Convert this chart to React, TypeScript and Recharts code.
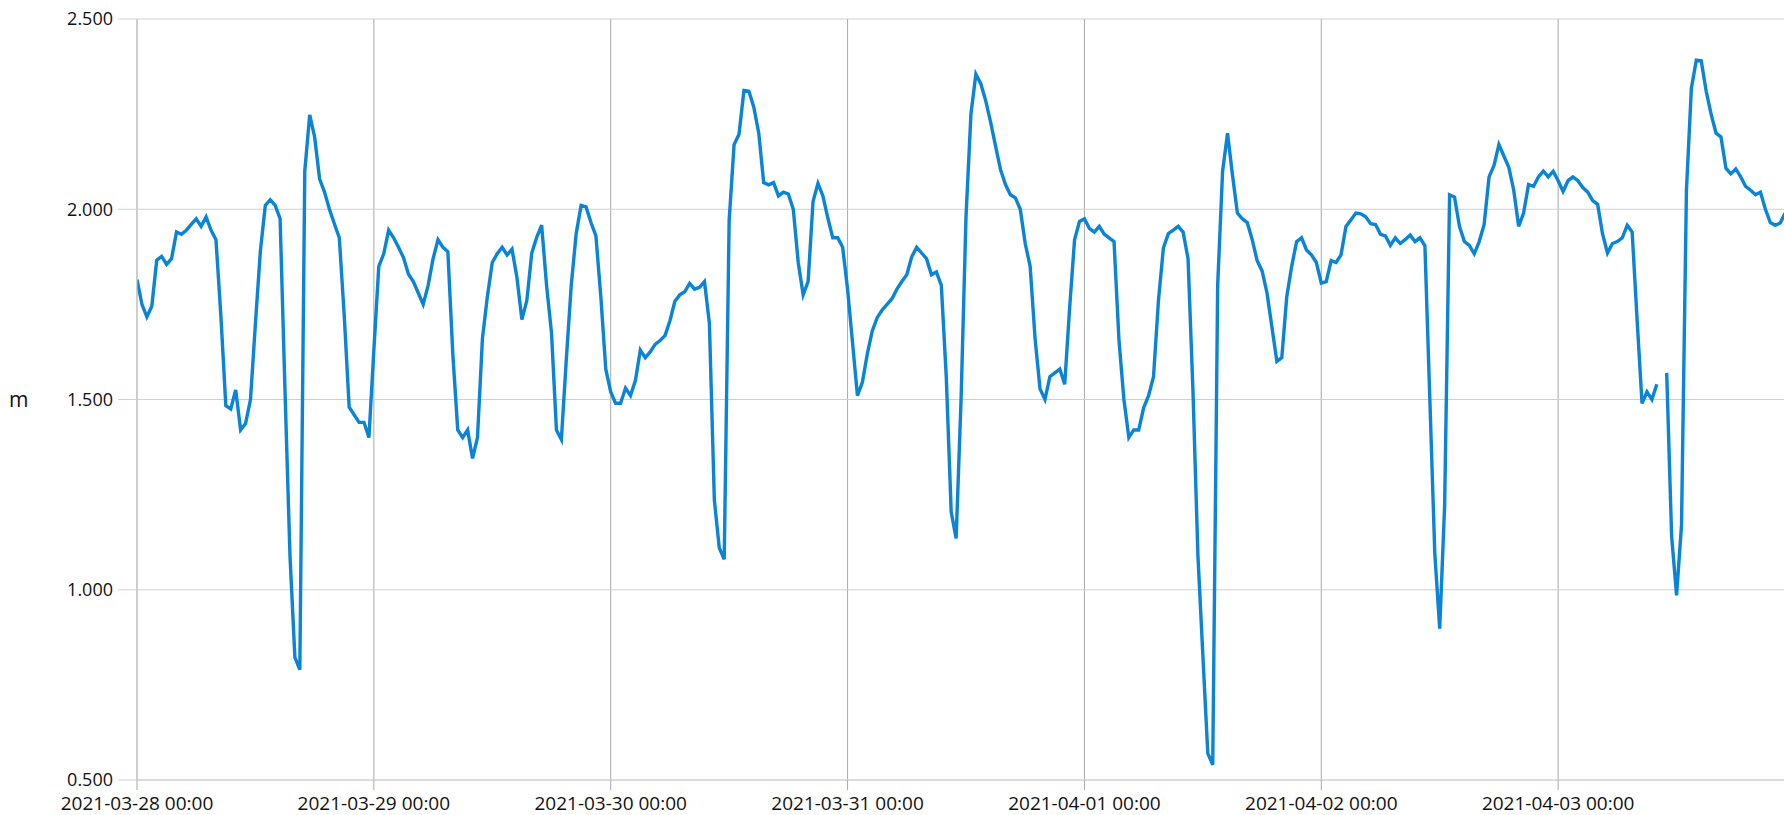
import { LineChart, Line, XAxis, YAxis, CartesianGrid } from 'recharts'

// half-hourly water level readings (m), one array per day
const day0328 = [
  1.815, 1.75, 1.717, 1.745, 1.866, 1.876, 1.855, 1.87, 1.94, 1.934, 1.945, 1.96,
  1.975, 1.955, 1.98, 1.945, 1.92, 1.72, 1.484, 1.475, 1.525, 1.42, 1.437, 1.5,
  1.7, 1.89, 2.01, 2.025, 2.01, 1.975, 1.52, 1.09, 0.822, 0.79, 2.1, 2.248,
  2.19, 2.08, 2.045, 2.0, 1.962, 1.925, 1.72, 1.48, 1.46, 1.44, 1.44, 1.4,
]
const day0329 = [
  1.63, 1.85, 1.883, 1.945, 1.925, 1.9, 1.873, 1.83, 1.81, 1.78, 1.75, 1.8,
  1.87, 1.92, 1.9, 1.888, 1.62, 1.42, 1.4, 1.42, 1.345, 1.4, 1.66, 1.77,
  1.86, 1.883, 1.9, 1.88, 1.895, 1.82, 1.71, 1.76, 1.885, 1.926, 1.958, 1.8,
  1.675, 1.42, 1.395, 1.605, 1.8, 1.936, 2.01, 2.006, 1.965, 1.93, 1.77, 1.58,
]
const day0330 = [
  1.52, 1.49, 1.49, 1.53, 1.51, 1.55, 1.63, 1.61, 1.625, 1.645, 1.655, 1.668,
  1.707, 1.758, 1.775, 1.783, 1.805, 1.79, 1.795, 1.81, 1.7, 1.236, 1.11, 1.08,
  1.97, 2.17, 2.197, 2.312, 2.31, 2.268, 2.2, 2.07, 2.064, 2.07, 2.035, 2.045,
  2.04, 2.0, 1.86, 1.775, 1.81, 2.02, 2.068, 2.035, 1.977, 1.925, 1.925, 1.9,
]
const day0331 = [
  1.79, 1.65, 1.51, 1.545, 1.62, 1.68, 1.715, 1.735, 1.75, 1.765, 1.79, 1.81,
  1.828, 1.875, 1.9, 1.885, 1.87, 1.828, 1.835, 1.8, 1.56, 1.204, 1.135, 1.5,
  1.98, 2.25, 2.355, 2.33, 2.285, 2.228, 2.165, 2.104, 2.065, 2.038, 2.03, 2.0,
  1.91, 1.85, 1.66, 1.528, 1.5, 1.56, 1.57, 1.58, 1.54, 1.74, 1.92, 1.968,
]
const day0401 = [
  1.975, 1.95, 1.94, 1.955, 1.935, 1.925, 1.915, 1.656, 1.5, 1.4, 1.42, 1.42,
  1.478, 1.51, 1.56, 1.76, 1.898, 1.936, 1.945, 1.955, 1.94, 1.87, 1.52, 1.09,
  0.828, 0.57, 0.54, 1.8, 2.1, 2.2, 2.09, 1.99, 1.975, 1.965, 1.92, 1.865,
  1.838, 1.78, 1.69, 1.6, 1.61, 1.77, 1.85, 1.915, 1.925, 1.893, 1.88, 1.86,
]
const day0402 = [
  1.806, 1.81, 1.865, 1.86, 1.88, 1.955, 1.972, 1.99, 1.988, 1.98, 1.962, 1.96,
  1.934, 1.93, 1.905, 1.925, 1.91, 1.92, 1.932, 1.915, 1.925, 1.904, 1.5, 1.096,
  0.898, 1.223, 2.038, 2.032, 1.955, 1.915, 1.905, 1.883, 1.915, 1.96, 2.085, 2.115,
  2.17, 2.14, 2.11, 2.05, 1.955, 1.99, 2.065, 2.06, 2.085, 2.1, 2.085, 2.1,
]
const day0403 = [
  2.075, 2.047, 2.075, 2.085, 2.075, 2.057, 2.045, 2.023, 2.013, 1.935, 1.885, 1.91,
  1.915, 1.925, 1.958, 1.94, 1.71, 1.49, 1.52, 1.5, 1.54, null, 1.57, 1.14,
  0.985, 1.17, 2.05, 2.318, 2.392, 2.39, 2.31, 2.25, 2.2, 2.19, 2.108, 2.093,
  2.106, 2.085, 2.06, 2.05, 2.038, 2.045, 2.0, 1.965, 1.958, 1.964, 1.99,
]

const xLabels = [
  '2021-03-28 00:00',
  '2021-03-29 00:00',
  '2021-03-30 00:00',
  '2021-03-31 00:00',
  '2021-04-01 00:00',
  '2021-04-02 00:00',
  '2021-04-03 00:00',
]
const xTicks = [0, 24, 48, 72, 96, 120, 144]
const yTicks = [0.5, 1, 1.5, 2, 2.5]
const yTitle = 'm'
const STEP_HOURS = 0.5

const levels = [
  ...day0328, ...day0329, ...day0330, ...day0331, ...day0401, ...day0402, ...day0403,
]
const data = levels.map((v, i) => ({ t: i * STEP_HOURS, level: v }))

const font = '"Open Sans", "Noto Sans", sans-serif'

function DateTick(props: any) {
  const { x, y, payload } = props
  return (
    <text
      x={x}
      y={y}
      dy={16}
      textAnchor="middle"
      fill="#111"
      style={{ fontSize: 19, fontFamily: font }}
    >
      {xLabels[Math.round(payload.value / 24)]}
    </text>
  )
}

export default function App() {
  return (
    <div
      style={{
        position: 'absolute',
        left: 0,
        top: 0,
        width: 1784,
        height: 815,
        overflow: 'hidden',
        background: '#fff',
        fontFamily: font,
      }}
    >
      <LineChart
        width={1795}
        height={815}
        data={data}
        margin={{ top: 19, right: 0, bottom: 0, left: 0 }}
      >
        <CartesianGrid horizontal={false} stroke="#a8a8a8" />
        <CartesianGrid vertical={false} stroke="#d0d0d0" />
        <XAxis
          dataKey="t"
          type="number"
          domain={[0, 168]}
          ticks={xTicks}
          interval={0}
          allowDataOverflow
          height={35}
          tickSize={10}
          tickMargin={4}
          axisLine={{ stroke: '#d0d0d0' }}
          tickLine={{ stroke: '#a8a8a8' }}
          tick={<DateTick />}
        />
        <YAxis
          type="number"
          domain={[0.5, 2.5]}
          ticks={yTicks}
          interval={0}
          width={137}
          tickSize={19}
          tickMargin={5}
          tickFormatter={(v: number) => v.toFixed(3)}
          axisLine={{ stroke: '#c8c8c8' }}
          tickLine={{ stroke: '#d0d0d0' }}
          tick={{ fontSize: 18, fill: '#111', fontFamily: font }}
          label={{
            value: yTitle,
            position: 'insideLeft',
            offset: 9,
            fontSize: 21,
            fill: '#111',
            fontFamily: font,
          }}
        />
        <Line
          type="linear"
          dataKey="level"
          stroke="#0a84d6"
          strokeWidth={3.4}
          dot={false}
          activeDot={false}
          connectNulls={false}
          isAnimationActive={false}
        />
      </LineChart>
    </div>
  )
}
